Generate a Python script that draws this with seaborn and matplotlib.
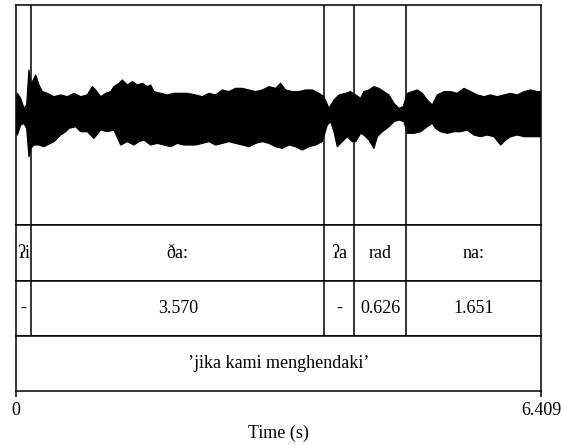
import numpy as np
import pandas as pd
import seaborn as sns
import matplotlib.pyplot as plt

# Durasi total dan batas-batas segmen (detik)
durasi_total = 6.409
batas = [0.192, 3.762, 4.132, 4.758]

# Label tier
tier_fonem = ['ʔi', 'ða:', 'ʔa', 'rad', 'na:']
tier_durasi = ['-', '3.570', '-', '0.626', '1.651']
tier_glosa = '’jika kami menghendaki’'

# Selubung atas gelombang suara
waktu_atas = [0.0, 0.020, 0.061, 0.101, 0.134, 0.162, 0.183, 0.215, 0.244, 0.284,
              0.325, 0.386, 0.467, 0.549, 0.630, 0.711, 0.793, 0.874, 0.935, 0.976,
              1.037, 1.098, 1.159, 1.199, 1.260, 1.301, 1.362, 1.423, 1.484, 1.545,
              1.606, 1.647, 1.687, 1.769, 1.850, 1.931, 2.013, 2.094,
              2.195, 2.277, 2.358, 2.439, 2.521, 2.602, 2.683, 2.765, 2.846, 2.927,
              3.009, 3.090, 3.171, 3.232, 3.293, 3.375, 3.456, 3.537, 3.619, 3.700,
              3.761, 3.822, 3.883, 3.944, 4.025, 4.086, 4.148, 4.208, 4.249,
              4.310, 4.371, 4.432, 4.493, 4.554, 4.615, 4.676, 4.729, 4.778, 4.839,
              4.900, 4.961, 5.022, 5.083, 5.144, 5.225, 5.306, 5.388, 5.469, 5.550,
              5.632, 5.713, 5.794, 5.876, 5.957, 6.038, 6.120, 6.201, 6.282, 6.364,
              6.409]
atas = [0.074, 0.182, 0.136, 0.043, 0.074, 0.398, 0.259, 0.306, 0.352, 0.259,
        0.198, 0.182, 0.151, 0.167, 0.151, 0.182, 0.151, 0.167, 0.244, 0.213,
        0.151, 0.182, 0.198, 0.244, 0.275, 0.306, 0.259, 0.290, 0.259, 0.275,
        0.244, 0.259, 0.198, 0.182, 0.167, 0.182, 0.182, 0.182,
        0.167, 0.151, 0.182, 0.167, 0.213, 0.198, 0.228, 0.228, 0.213, 0.198,
        0.213, 0.244, 0.228, 0.275, 0.213, 0.198, 0.198, 0.213, 0.213, 0.182,
        0.151, 0.043, 0.120, 0.167, 0.182, 0.198, 0.167, 0.136, 0.198,
        0.213, 0.244, 0.228, 0.198, 0.167, 0.089, 0.043, 0.059, 0.182, 0.198,
        0.213, 0.182, 0.120, 0.074, 0.167, 0.198, 0.198, 0.182, 0.228, 0.198,
        0.167, 0.151, 0.167, 0.151, 0.167, 0.182, 0.167, 0.198, 0.213, 0.198,
        0.198]

# Selubung bawah gelombang suara
waktu_bawah = [0.0, 0.020, 0.061, 0.101, 0.134, 0.162, 0.183, 0.223, 0.284, 0.345,
               0.386, 0.467, 0.549, 0.610, 0.650, 0.732, 0.793, 0.874, 0.955, 1.037,
               1.118, 1.199, 1.281, 1.362, 1.443, 1.504, 1.565, 1.647, 1.728, 1.809,
               1.891, 1.972, 2.053, 2.114,
               2.195, 2.277, 2.358, 2.439, 2.521, 2.602, 2.683, 2.765, 2.846, 2.927,
               3.009, 3.090, 3.171, 3.253, 3.334, 3.415, 3.497, 3.578, 3.659, 3.741,
               3.802, 3.843, 3.883, 3.924, 3.985, 4.046, 4.107, 4.148, 4.208, 4.249,
               4.310, 4.371, 4.412, 4.473, 4.554, 4.615, 4.676, 4.737, 4.778, 4.859,
               4.940, 5.022, 5.083, 5.123, 5.184, 5.266, 5.347, 5.428, 5.510, 5.591,
               5.672, 5.754, 5.835, 5.917, 5.977, 6.038, 6.120, 6.201, 6.282, 6.364,
               6.409]
bawah = [-0.173, -0.204, -0.111, -0.096, -0.142, -0.404, -0.327, -0.296, -0.296, -0.312,
         -0.296, -0.265, -0.204, -0.173, -0.142, -0.127, -0.173, -0.173, -0.235, -0.157,
         -0.173, -0.157, -0.296, -0.265, -0.296, -0.265, -0.250, -0.296, -0.281, -0.296,
         -0.312, -0.281, -0.296, -0.296,
         -0.296, -0.281, -0.265, -0.296, -0.281, -0.265, -0.281, -0.296, -0.312, -0.281,
         -0.265, -0.281, -0.312, -0.327, -0.296, -0.312, -0.343, -0.312, -0.296, -0.265,
         -0.111, -0.080, -0.173, -0.312, -0.265, -0.219, -0.265, -0.265, -0.188, -0.204,
         -0.250, -0.327, -0.219, -0.173, -0.127, -0.080, -0.065, -0.080, -0.188, -0.188,
         -0.173, -0.127, -0.096, -0.142, -0.173, -0.188, -0.173, -0.173, -0.157, -0.204,
         -0.219, -0.204, -0.219, -0.296, -0.250, -0.219, -0.204, -0.219, -0.219, -0.219,
         -0.219]

sns.set_theme(style='white')
plt.rcParams['font.family'] = ['Liberation Serif', 'DejaVu Serif']
plt.rcParams['text.color'] = 'black'
plt.rcParams['xtick.color'] = 'black'
plt.rcParams['axes.labelcolor'] = 'black'

df_atas = pd.DataFrame({'waktu': waktu_atas, 'amp': atas})
df_bawah = pd.DataFrame({'waktu': waktu_bawah, 'amp': bawah})
tepi = [0.0] + batas + [durasi_total]
tengah = [(a + b) / 2 for a, b in zip(tepi[:-1], tepi[1:])]

fig = plt.figure(figsize=(5.63, 4.45), dpi=100)
kiri, lebar = 15.7 / 563, 525.3 / 563
ax_gel = fig.add_axes([kiri, 1 - 225 / 445, lebar, 220 / 445])
ax_t1 = fig.add_axes([kiri, 1 - 281 / 445, lebar, 56 / 445])
ax_t2 = fig.add_axes([kiri, 1 - 336 / 445, lebar, 55 / 445])
ax_t3 = fig.add_axes([kiri, 1 - 391 / 445, lebar, 55 / 445])

# Gelombang suara: poligon antara selubung atas dan bawah
ax_gel.fill(np.concatenate([df_atas['waktu'], df_bawah['waktu'][::-1]]),
            np.concatenate([df_atas['amp'], df_bawah['amp'][::-1]]),
            color='black', linewidth=0)
sns.lineplot(data=df_atas, x='waktu', y='amp', ax=ax_gel, color='black',
             linewidth=0.9)
sns.lineplot(data=df_bawah, x='waktu', y='amp', ax=ax_gel, color='black',
             linewidth=0.9)
ax_gel.set_ylim(-1.037, 1.0)

for ax in [ax_gel, ax_t1, ax_t2, ax_t3]:
    ax.set_xlim(0, durasi_total)
    ax.set_xlabel('')
    ax.set_ylabel('')
    ax.set_yticks([])
    for s in ax.spines.values():
        s.set_color('black')
        s.set_linewidth(1.1)

for ax in [ax_gel, ax_t1, ax_t2]:
    for b in batas:
        ax.axvline(b, color='black', linewidth=1.1)
    ax.set_xticks([])
for ax in [ax_t1, ax_t2, ax_t3]:
    ax.set_ylim(0, 1)

# Teks tier
for x, lbl in zip(tengah, tier_fonem):
    ax_t1.text(x, 0.5, lbl, ha='center', va='center', fontsize=13)
for x, lbl in zip(tengah, tier_durasi):
    ax_t2.text(x, 0.5, lbl, ha='center', va='center', fontsize=13)
ax_t3.text(durasi_total / 2, 0.5, tier_glosa, ha='center', va='center',
           fontsize=13)

ax_t3.set_xticks([0, durasi_total])
ax_t3.set_xticklabels(['0', '6.409'], fontsize=13)
ax_t3.tick_params(axis='x', direction='out', length=4, width=1.1,
                  color='black', bottom=True, pad=4)
ax_t3.set_xlabel('Time (s)', fontsize=13, labelpad=4)

fig.savefig('out.png', dpi=100, facecolor='white')
